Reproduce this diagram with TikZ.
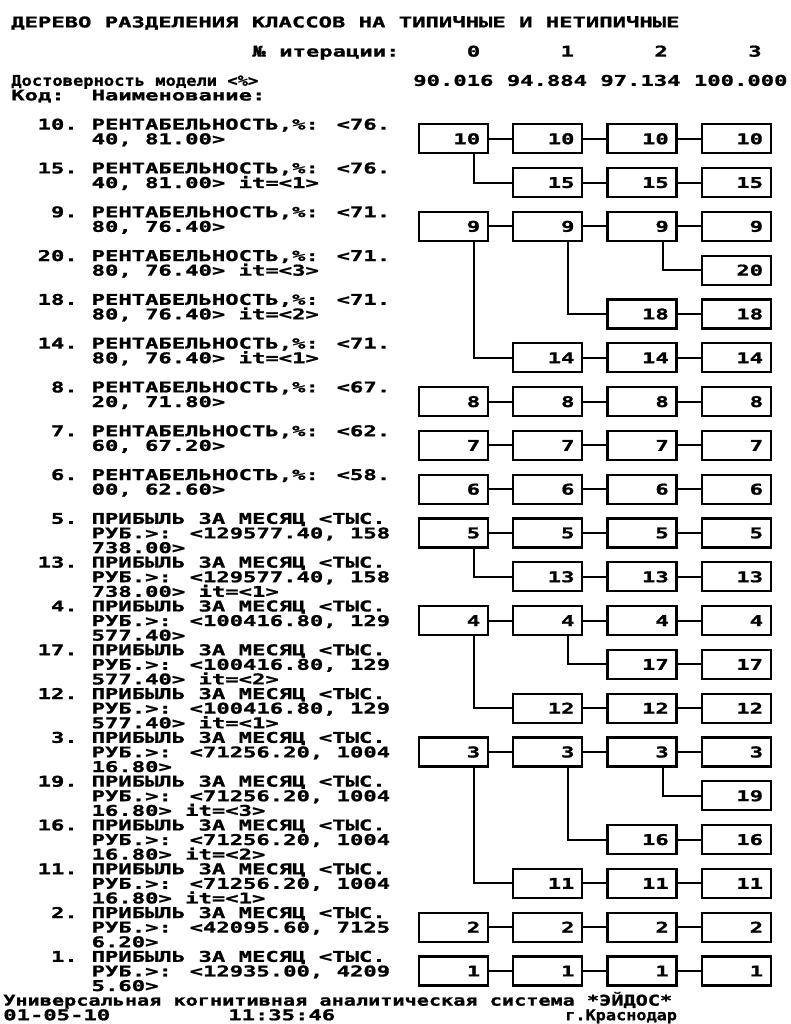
\documentclass[tikz,border=0pt]{standalone}
\usepackage{fontspec}
\newfontfamily\pxf{DejaVu Sans Mono}[FakeStretch=1.5,FakeBold=1.2]
\newcommand\pxsize{\pxf\bfseries\fontsize{11.1}{13}\selectfont}
% text line: name, column, line number, text
\newcommand\Ln[4]{\node[txt] (#1) at ({11+13.4*#2}, {27.4+14.6*#3}) {#4};}
% text line at x (px), line number, horizontal scale
\newcommand\Lx[5]{\node[txt] (#1) at ({#2}, {27.4+14.6*#3}) {\scalebox{#4}[1]{#5}};}
% two-line label: row index, class number, tail of line 1, line 2
\newcommand\LabA[4]{%
  \node[num] (k#2) at ({11+13.4*5}, {27.4+14.6*(7+3*#1)}) {#2.};
  \node[txt] (t#2a) at ({11+13.4*6}, {27.4+14.6*(7+3*#1)}) {РЕНТАБЕЛЬНОСТЬ,\%: #3};
  \node[txt] (t#2b) at ({11+13.4*6}, {27.4+14.6*(8+3*#1)}) {#4};}
% three-line label
\newcommand\LabB[4]{%
  \node[num] (k#2) at ({11+13.4*5}, {27.4+14.6*(7+3*#1)}) {#2.};
  \node[txt] (t#2a) at ({11+13.4*6}, {27.4+14.6*(7+3*#1)}) {ПРИБЫЛЬ ЗА МЕСЯЦ <ТЫС.};
  \node[txt] (t#2b) at ({11+13.4*6}, {27.4+14.6*(8+3*#1)}) {#3};
  \node[txt] (t#2c) at ({11+13.4*6}, {27.4+14.6*(9+3*#1)}) {#4};}
% chain of boxes: row index, class number, first column
\newcommand\Chain[3]{%
  \foreach \c in {#3,...,3}{\node[bx] (b#2c\c) at ({453.5+94.3*\c}, {138.8+43.8*#1}) {#2};}
  \ifnum#3<3
    \foreach \c [evaluate=\c as \d using int(\c+1)] in {#3,...,2}{\draw[wire] (b#2c\c.east) -- (b#2c\d.west);}
  \fi}
\newcommand\Branch[2]{\draw[wire] ([xshift=-11.25pt]#1.south east) |- (#2.west);}
\begin{document}
\begin{tikzpicture}[x=0.75pt,y=-0.75pt,
  txt/.style={font=\pxsize, inner sep=0pt, anchor=base west},
  num/.style={txt, anchor=base east},
  bx/.style={draw, line width=1.7pt, text width=40pt, align=right, inner xsep=5.875pt,
    inner ysep=0pt, minimum height=21.75pt, font=\pxsize},
  wire/.style={line width=1.5pt}]
\useasboundingbox (0,0) rectangle (790,1024);
% header
\Ln{title}{0}{0}{ДЕРЕВО РАЗДЕЛЕНИЯ КЛАССОВ НА ТИПИЧНЫЕ И НЕТИПИЧНЫЕ}
\Ln{iter}{18}{2}{№ итерации:}
\Ln{i0}{34}{2}{0}
\Ln{i1}{41}{2}{1}
\Ln{i2}{48}{2}{2}
\Ln{i3}{55}{2}{3}
\Lx{dost}{11}{4}{0.77}{Достоверность модели <\%>}
\Ln{dv}{30}{4}{90.016 94.884 97.134 100.000}
\Ln{kod}{0}{5}{Код:}
\Ln{naim}{6}{5}{Наименование:}
% labels
\LabA{0}{10}{<76.}{40, 81.00>}
\LabA{1}{15}{<76.}{40, 81.00> it=<1>}
\LabA{2}{9}{<71.}{80, 76.40>}
\LabA{3}{20}{<71.}{80, 76.40> it=<3>}
\LabA{4}{18}{<71.}{80, 76.40> it=<2>}
\LabA{5}{14}{<71.}{80, 76.40> it=<1>}
\LabA{6}{8}{<67.}{20, 71.80>}
\LabA{7}{7}{<62.}{60, 67.20>}
\LabA{8}{6}{<58.}{00, 62.60>}
\LabB{9}{5}{РУБ.>: <129577.40, 158}{738.00>}
\LabB{10}{13}{РУБ.>: <129577.40, 158}{738.00> it=<1>}
\LabB{11}{4}{РУБ.>: <100416.80, 129}{577.40>}
\LabB{12}{17}{РУБ.>: <100416.80, 129}{577.40> it=<2>}
\LabB{13}{12}{РУБ.>: <100416.80, 129}{577.40> it=<1>}
\LabB{14}{3}{РУБ.>: <71256.20, 1004}{16.80>}
\LabB{15}{19}{РУБ.>: <71256.20, 1004}{16.80> it=<3>}
\LabB{16}{16}{РУБ.>: <71256.20, 1004}{16.80> it=<2>}
\LabB{17}{11}{РУБ.>: <71256.20, 1004}{16.80> it=<1>}
\LabB{18}{2}{РУБ.>: <42095.60, 7125}{6.20>}
\LabB{19}{1}{РУБ.>: <12935.00, 4209}{5.60>}
% boxes
\Chain{0}{10}{0}
\Chain{1}{15}{1}
\Chain{2}{9}{0}
\Chain{3}{20}{3}
\Chain{4}{18}{2}
\Chain{5}{14}{1}
\Chain{6}{8}{0}
\Chain{7}{7}{0}
\Chain{8}{6}{0}
\Chain{9}{5}{0}
\Chain{10}{13}{1}
\Chain{11}{4}{0}
\Chain{12}{17}{2}
\Chain{13}{12}{1}
\Chain{14}{3}{0}
\Chain{15}{19}{3}
\Chain{16}{16}{2}
\Chain{17}{11}{1}
\Chain{18}{2}{0}
\Chain{19}{1}{0}
% branches
\Branch{b10c0}{b15c1}
\Branch{b9c0}{b14c1}
\Branch{b9c1}{b18c2}
\Branch{b9c2}{b20c3}
\Branch{b5c0}{b13c1}
\Branch{b4c0}{b12c1}
\Branch{b4c1}{b17c2}
\Branch{b3c0}{b11c1}
\Branch{b3c1}{b16c2}
\Branch{b3c2}{b19c3}
% footer
\Lx{foot}{3}{67}{0.91}{Универсальная когнитивная аналитическая система *ЭЙДОС*}
\Lx{date}{3}{68}{1}{01-05-10}
\Lx{time}{228}{68}{1}{11:35:46}
\Lx{city}{565}{68}{0.76}{г.Краснодар}
\end{tikzpicture}
\end{document}
